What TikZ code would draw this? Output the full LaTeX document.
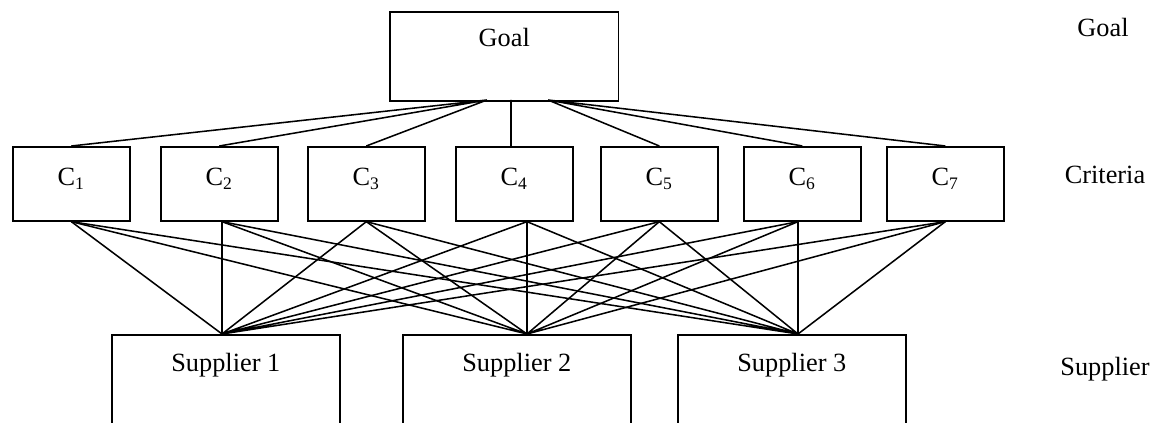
\documentclass[tikz,border=0pt]{standalone}
\usepackage{fontspec}
\setmainfont{Liberation Serif}
\begin{document}
\begin{tikzpicture}[x=0.456pt, y=-0.456pt, line width=0.7pt,
        font=\fontsize{12}{14}\selectfont,
        box/.style={draw, rectangle, inner sep=0pt, anchor=north west},
        crit/.style={box, minimum width=53.4pt, text height=17.8pt, text depth=16pt},
        goalbox/.style={box, minimum width=104.4pt, text height=15.8pt, text depth=24.8pt},
        supbox/.style={box, minimum width=104pt, text height=16.9pt, text depth=45pt}]
        \clip (0,0) rectangle (1157,423);
        % goal
        \node[goalbox] (goal) at (389,11) {Goal};
        % criteria
        \node[crit] (c1) at (12,146) {C\textsubscript{1}};
        \node[crit] (c2) at (160,146) {C\textsubscript{2}};
        \node[crit] (c3) at (307,146) {C\textsubscript{3}};
        \node[crit] (c4) at (455,146) {C\textsubscript{4}};
        \node[crit] (c5) at (600,146) {C\textsubscript{5}};
        \node[crit] (c6) at (743,146) {C\textsubscript{6}};
        \node[crit] (c7) at (886,146) {C\textsubscript{7}};
        % suppliers
        \node[supbox] (s1) at (111,334) {Supplier 1};
        \node[supbox] (s2) at (402,334) {Supplier 2};
        \node[supbox] (s3) at (677,334) {Supplier 3};
        % level names
        \node (lgoal) at (1103,28) {Goal};
        \node (lcrit) at (1105,175) {Criteria};
        \node (lsup) at (1105,369) {Supplier};
        % meeting points
        \coordinate (gl) at (487,100);
        \coordinate (gm) at (511,100);
        \coordinate (gr) at (548,100);
        \coordinate (s1t) at (222,334);
        \coordinate (s2t) at (527,334);
        \coordinate (s3t) at (798,334);
        \coordinate (b1) at (c1.south);
        \coordinate (b2) at (c2.south -| s1t);
        \coordinate (b3) at (c3.south);
        \coordinate (b4) at (c4.south -| s2t);
        \coordinate (b5) at (c5.south);
        \coordinate (b6) at (c6.south -| s3t);
        \coordinate (b7) at (c7.south);
        \draw (gl) -- (c1.north) (gl) -- (c2.north) (gl) -- (c3.north)
            (gm) -- (c4.north -| gm)
            (gr) -- (c5.north) (gr) -- (c6.north) (gr) -- (c7.north);
        \draw (s1t) -- (b1) (s1t) -- (b2) (s1t) -- (b3) (s1t) -- (b4) (s1t) -- (b5) (s1t) -- (b6) (s1t) -- (b7);
        \draw (s2t) -- (b1) (s2t) -- (b2) (s2t) -- (b3) (s2t) -- (b4) (s2t) -- (b5) (s2t) -- (b6) (s2t) -- (b7);
        \draw (s3t) -- (b1) (s3t) -- (b2) (s3t) -- (b3) (s3t) -- (b4) (s3t) -- (b5) (s3t) -- (b6) (s3t) -- (b7);
        \end{tikzpicture}
\end{document}
